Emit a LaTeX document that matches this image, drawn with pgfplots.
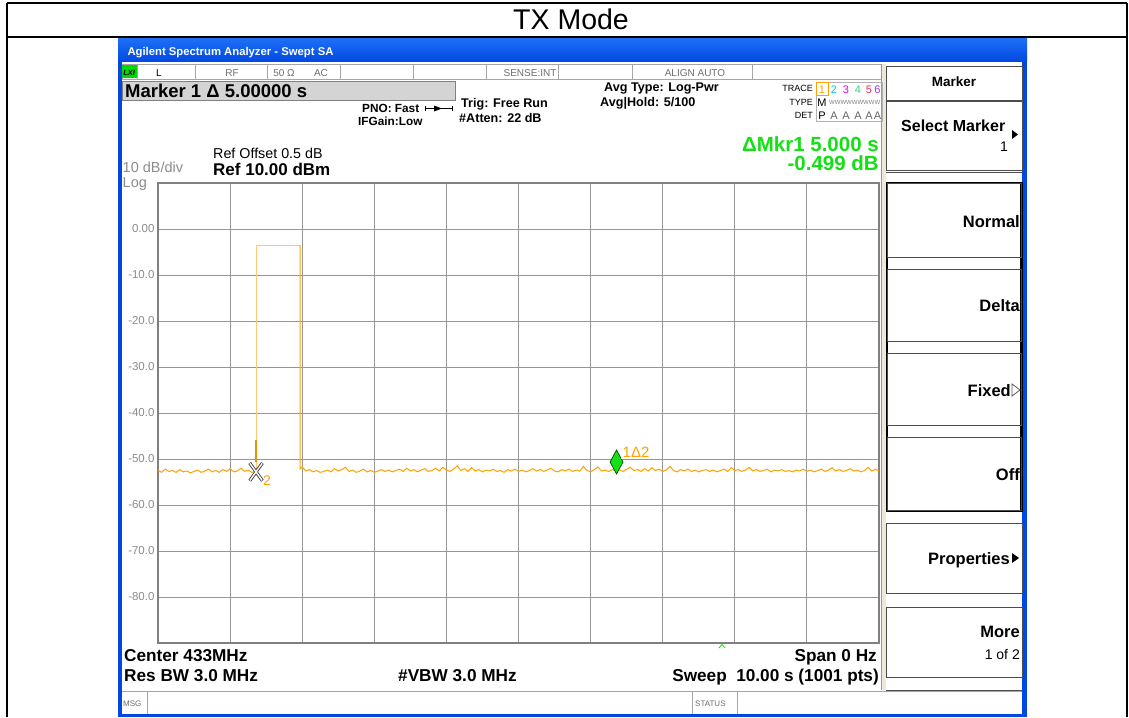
\documentclass[border=0pt]{standalone}
\usepackage{pgfplots}
\pgfplotsset{compat=1.18}
\usepackage{fontspec}
\setmainfont{Liberation Sans}
\newfontfamily\dejavu{DejaVu Sans}
\newcommand\fs[1]{\fontsize{#1}{#1}\selectfont}
\definecolor{framegray}{RGB}{128,128,128}
\definecolor{gridgray}{RGB}{150,150,150}
\definecolor{ticktext}{RGB}{140,140,140}
\definecolor{winblue}{RGB}{0,72,225}
\definecolor{winblueB}{RGB}{30,110,245}
\definecolor{mkbox}{RGB}{212,212,212}
\definecolor{agreen}{RGB}{20,225,20}
\definecolor{trace}{RGB}{255,162,0}
\definecolor{tracelight}{RGB}{255,200,120}
\definecolor{stgray}{RGB}{110,110,110}
\definecolor{xpbeige}{RGB}{236,233,216}
\begin{document}
\begin{tikzpicture}
\begin{scope}[x=1pt,y=-1pt]
\path[use as bounding box] (0,0) rectangle (1129,717);
\fill[white] (0,0) rectangle (1129,717);
% outer table
\draw[line width=2pt] (7,3) -- (1127,3);
\draw[line width=2pt] (7,37) -- (1127,37);
\draw[line width=2pt] (7,3) -- (7,717);
\draw[line width=2pt] (1127,3) -- (1127,717);
\node[anchor=base] at (571,30) {\fs{28.5}TX Mode};
% window
\shade[top color=winblueB, bottom color=winblue] (118,39) rectangle (1027,62);
\fill[winblue] (118,62) rectangle (121.5,717);
\fill[winblue] (1022,62) rectangle (1027,717);
\fill[winblue] (118,714) rectangle (1027,717);
\node[anchor=base west, text=white, font=\bfseries] at (124,56) {\fs{11.3}Agilent Spectrum Analyzer - Swept SA};
% status row
\draw[gray!70] (122,64) rectangle (881,79);
\foreach \xx in {137,195,267,340,413,486,558,632,752} \draw[gray!70] (\xx,64) -- (\xx,79);
\fill[green!85!black] (122,65) rectangle (136.5,78);
\node[anchor=base, font=\bfseries\itshape] at (129.2,75.5) {\fs{7.5}LXI};
\node[anchor=base] at (159,76) {\fs{10}L};
\node[anchor=base, text=stgray] at (232,76) {\fs{10}RF};
\node[anchor=base, text=stgray] at (284,76) {\fs{10}50 Ω};
\node[anchor=base, text=stgray] at (321,76) {\fs{10}AC};
\node[anchor=base, text=stgray] at (530,76) {\fs{10}SENSE:INT};
\node[anchor=base, text=stgray] at (695,76) {\fs{10}ALIGN AUTO};
% separator column
\fill[xpbeige] (881.5,64) rectangle (886,690);
\draw[gray!80] (881.5,64) -- (881.5,690);
% marker box
\draw[fill=mkbox, draw=gray] (122,81) rectangle (455,100);
\node[anchor=base west, font=\bfseries, inner sep=0pt] at (125,97.5) {\fs{18.5}Marker 1 Δ 5.00000 s};
% settings text
\node[anchor=base west, font=\bfseries, inner sep=0pt] at (362,112) {\fs{11.8}PNO: Fast};
\draw[line width=0.8pt] (425,108.5) -- (452,108.5);
\draw (425,106) -- (425,111); \draw (452,106) -- (452,111);
\fill (434,105.5) -- (442,108.5) -- (434,111.5) -- cycle;
\node[anchor=base west, font=\bfseries, inner sep=0pt] at (358,125) {\fs{11.8}IFGain:Low};
\node[anchor=base west, font=\bfseries, inner sep=0pt] at (461,107) {\fs{12.6}Trig: Free Run};
\node[anchor=base west, font=\bfseries, inner sep=0pt] at (459,122) {\fs{12.6}\#Atten: 22 dB};
\node[anchor=base west, font=\bfseries, inner sep=0pt] at (604,92) {\fs{12.6}Avg Type: Log-Pwr};
\node[anchor=base west, font=\bfseries, inner sep=0pt] at (600,106) {\fs{12.6}Avg|Hold: 5/100};
\node[anchor=base east, inner sep=0pt] at (813,91) {\fs{9}TRACE};
\node[anchor=base east, inner sep=0pt] at (813,105) {\fs{9}TYPE};
\node[anchor=base east, inner sep=0pt] at (813,118) {\fs{9}DET};
\draw[gray!60] (816,82) rectangle (882,121);
\draw[trace] (816.5,82.5) rectangle (828,95);
\node[anchor=base, inner sep=0pt, text=trace] at (822,93) {\fs{11}1};
\node[anchor=base, inner sep=0pt, text={rgb,255:red,0;green,200;blue,235}] at (834,93) {\fs{11}2};
\node[anchor=base, inner sep=0pt, text={rgb,255:red,230;green,0;blue,230}] at (846,93) {\fs{11}3};
\node[anchor=base, inner sep=0pt, text={rgb,255:red,60;green,210;blue,120}] at (858,93) {\fs{11}4};
\node[anchor=base, inner sep=0pt, text={rgb,255:red,240;green,40;blue,100}] at (869,93) {\fs{11}5};
\node[anchor=base, inner sep=0pt, text={rgb,255:red,140;green,60;blue,230}] at (877.5,93) {\fs{11}6};
\node[anchor=base, inner sep=0pt] at (822,106) {\fs{11}M};
\node[anchor=base west, inner sep=0pt, text=gray] at (829,104) {\fs{6}WWWWWWWWW};
\node[anchor=base, inner sep=0pt] at (822,119) {\fs{11}P};
\foreach \xx in {834,846,858,869,877.5} \node[anchor=base, inner sep=0pt, text=gray!80!black] at (\xx,119) {\fs{11}A};
\node[anchor=base east, inner sep=0pt, text=agreen, font=\bfseries] at (879,151) {\fs{20.5}ΔMkr1 5.000 s};
\node[anchor=base east, inner sep=0pt, text=agreen, font=\bfseries] at (879,170) {\fs{20.5}-0.499 dB};
\node[anchor=base west, inner sep=0pt] at (213,158) {\fs{14.3}Ref Offset 0.5 dB};
\node[anchor=base west, inner sep=0pt, font=\bfseries] at (213,175.5) {\fs{17}Ref 10.00 dBm};
\node[anchor=base west, inner sep=0pt, text=ticktext] at (122.5,172) {\fs{14.5}10 dB/div};
\node[anchor=base west, inner sep=0pt, text=ticktext] at (122.5,187) {\fs{14.5}Log};
% bottom text
\node[anchor=base west, inner sep=0pt, font=\bfseries] at (124,661) {\fs{17.2}Center 433MHz};
\node[anchor=base east, inner sep=0pt, font=\bfseries] at (877,661) {\fs{17.2}Span 0 Hz};
\node[anchor=base west, inner sep=0pt, font=\bfseries] at (124,681) {\fs{17.2}Res BW 3.0 MHz};
\node[anchor=base west, inner sep=0pt, font=\bfseries] at (398,681) {\fs{17.2}\#VBW 3.0 MHz};
\node[anchor=base east, inner sep=0pt, font=\bfseries] at (879,681) {\fs{17.2}Sweep\ \ 10.00 s (1001 pts)};
\draw[agreen, line width=0.8pt] (719,648) -- (722,644.5) -- (725,648);
% status bar
\draw[gray!70] (121.5,691) -- (1022,691);
\draw[gray!70] (147,691) -- (147,714);
\draw[gray!70] (692,691) -- (692,714);
\draw[gray!70] (737,691) -- (737,714);
\node[anchor=base west, inner sep=0pt, text=stgray] at (123,706) {\fs{8}MSG};
\node[anchor=base west, inner sep=0pt, text=stgray] at (695,706) {\fs{8}STATUS};
% soft keys
\draw[gray!60!black] (886,66) rectangle (1022,100);
\node[anchor=base, inner sep=0pt, font=\bfseries] at (954,86) {\fs{13.5}Marker};
\draw[gray!60!black] (886,101) rectangle (1022,170);
\node[anchor=base west, inner sep=0pt, font=\bfseries] at (901,131) {\fs{16}Select Marker};
\node[anchor=base east, inner sep=0pt] at (1008,151) {\fs{14}1};
\fill (1012,130) -- (1018,134.5) -- (1012,139) -- cycle;
\draw[gray!60!black] (886,172) -- (1022,172);
\draw[line width=2.2pt] (887,183) rectangle (1021.5,511);
\foreach \ya/\yb in {183/257,269/341,353/425,437/510} \draw[gray!60!black] (887,\ya) rectangle (1021,\yb);
\node[anchor=base east, inner sep=0pt, font=\bfseries] at (1020,227) {\fs{16.5}Normal};
\node[anchor=base east, inner sep=0pt, font=\bfseries] at (1020,311) {\fs{16.5}Delta};
\node[anchor=base east, inner sep=0pt, font=\bfseries] at (1011,396) {\fs{16.5}Fixed};
\draw[gray!70!black, line width=0.8pt] (1012,384) -- (1020,390) -- (1012,396) -- cycle;
\node[anchor=base east, inner sep=0pt, font=\bfseries] at (1020,480) {\fs{16.5}Off};
\draw[gray!60!black] (886,523) rectangle (1022,593);
\node[anchor=base east, inner sep=0pt, font=\bfseries] at (1010,564) {\fs{16.5}Properties};
\fill (1012,553) -- (1019,558) -- (1012,563) -- cycle;
\draw[gray!60!black] (886,607) rectangle (1022,677);
\node[anchor=base east, inner sep=0pt, font=\bfseries] at (1020,637) {\fs{16.5}More};
\node[anchor=base east, inner sep=0pt] at (1020,659) {\fs{14}1 of 2};
\draw[gray!60!black] (886,690) -- (1022,690);
\end{scope}
\begin{axis}[
  at={(158pt,-643pt)}, anchor=south west,
  width=721pt, height=460pt, scale only axis,
  xmin=0, xmax=10, ymin=-90, ymax=10,
  xtick={0,1,...,10}, xticklabels={{},{},{},{},{},{},{},{},{},{},{}},
  ytick={-90,-80,...,10},
  yticklabels={{},-80.0,-70.0,-60.0,-50.0,-40.0,-30.0,-20.0,-10.0,0.00,{}},
  yticklabel style={font=\fs{11.5}, text=ticktext},
  grid=major, major grid style={color=gridgray, line width=0.9pt},
  major tick length=0pt,
  axis line style={color=framegray, line width=2.6pt},
]
\addplot[trace, line width=1pt] coordinates {
(0.00,-52.4)(0.05,-52.9)(0.10,-52.2)(0.15,-52.7)(0.20,-52.5)(0.25,-52.9)(0.30,-52.3)(0.35,-52.8)
(0.40,-52.6)(0.45,-53.0)(0.50,-52.7)(0.55,-52.4)(0.60,-52.9)(0.65,-52.6)(0.70,-52.2)(0.75,-52.8)
(0.80,-52.5)(0.85,-52.9)(0.90,-52.3)(0.95,-52.7)(1.00,-52.1)(1.05,-52.8)(1.10,-52.6)(1.15,-52.0)
(1.20,-52.7)(1.25,-52.4)(1.30,-52.9)(1.35,-52.7)(1.37,-52.8)};
\addplot[tracelight, line width=1.1pt] coordinates {(1.37,-52.8)(1.37,-3.5)(1.97,-3.5)};
\addplot[trace, line width=1pt] coordinates {
(1.97,-3.5)(1.97,-52.2)(2.00,-51.7)(2.05,-52.6)(2.10,-52.3)(2.15,-52.8)(2.20,-52.5)(2.25,-52.9)(2.30,-52.7)
(2.35,-52.4)(2.40,-52.8)(2.45,-52.1)(2.50,-52.6)(2.55,-52.3)(2.60,-51.8)(2.65,-52.7)(2.70,-52.4)
(2.75,-52.9)(2.80,-52.6)(2.85,-52.2)(2.90,-52.8)(2.95,-52.5)(3.00,-52.9)(3.05,-52.6)(3.10,-52.3)
(3.15,-52.7)(3.20,-52.4)(3.25,-52.8)(3.30,-52.5)(3.35,-52.2)(3.40,-52.7)(3.45,-52.0)(3.50,-52.6)
(3.55,-52.3)(3.60,-52.8)(3.65,-52.4)(3.70,-52.1)(3.75,-52.7)(3.80,-52.5)(3.85,-52.0)(3.90,-52.6)
(3.95,-51.8)(4.00,-52.4)(4.05,-52.7)(4.10,-52.2)(4.15,-51.5)(4.20,-52.5)(4.25,-52.1)(4.30,-52.7)
(4.35,-51.9)(4.40,-52.6)(4.45,-52.3)(4.50,-52.8)(4.55,-52.4)(4.60,-52.6)(4.65,-52.2)(4.70,-52.7)
(4.75,-52.5)(4.80,-52.9)(4.85,-52.3)(4.90,-52.6)(4.95,-52.2)(5.00,-52.7)(5.05,-52.4)(5.10,-52.8)
(5.15,-52.5)(5.20,-52.1)(5.25,-52.6)(5.30,-52.3)(5.35,-52.7)(5.40,-52.4)(5.45,-52.0)(5.50,-52.6)
(5.55,-52.8)(5.60,-52.3)(5.65,-52.6)(5.70,-52.2)(5.75,-52.7)(5.80,-52.4)(5.85,-52.6)(5.90,-51.6)
(5.95,-52.5)(6.00,-52.8)(6.05,-52.3)(6.10,-51.7)(6.15,-52.6)(6.20,-52.4)(6.25,-52.7)(6.30,-52.3)
(6.35,-52.6)(6.40,-52.4)(6.45,-52.7)(6.50,-52.2)(6.55,-51.8)(6.60,-52.5)(6.65,-52.3)(6.70,-52.7)
(6.75,-52.1)(6.80,-52.6)(6.85,-51.9)(6.90,-52.5)(6.95,-52.2)(7.00,-52.7)(7.05,-52.4)(7.10,-51.6)
(7.15,-52.5)(7.20,-52.8)(7.25,-52.3)(7.30,-52.6)(7.35,-52.2)(7.40,-52.7)(7.45,-52.4)(7.50,-52.8)
(7.55,-52.5)(7.60,-52.3)(7.65,-52.7)(7.70,-52.4)(7.75,-52.8)(7.80,-52.5)(7.85,-52.2)(7.90,-52.7)
(7.95,-51.9)(8.00,-52.5)(8.05,-52.3)(8.10,-52.7)(8.15,-52.4)(8.20,-51.8)(8.25,-52.6)(8.30,-52.3)
(8.35,-52.7)(8.40,-52.5)(8.45,-52.2)(8.50,-52.8)(8.55,-52.4)(8.60,-52.6)(8.65,-52.3)(8.70,-52.7)
(8.75,-52.5)(8.80,-52.8)(8.85,-52.4)(8.90,-52.6)(8.95,-52.2)(9.00,-52.7)(9.05,-52.4)(9.10,-52.8)
(9.15,-52.5)(9.20,-52.2)(9.25,-52.7)(9.30,-52.4)(9.35,-51.9)(9.40,-52.6)(9.45,-52.3)(9.50,-52.7)
(9.55,-52.5)(9.60,-52.1)(9.65,-52.6)(9.70,-52.4)(9.75,-52.8)(9.80,-52.5)(9.85,-51.8)(9.90,-52.6)
(9.95,-52.3)(10.00,-52.5)};
% marker 2 stem
\addplot[color=trace!90!black, line width=2pt] coordinates {(1.36,-45.9)(1.36,-50.6)};
% marker 2 X (outlined)
\addplot[only marks, mark=x, mark size=12.5pt, mark options={xscale=0.72, line width=3.2pt, draw=black!75}] coordinates {(1.36,-52.8)};
\addplot[only marks, mark=x, mark size=12pt, mark options={xscale=0.72, line width=1.4pt, draw=white}] coordinates {(1.36,-52.8)};
% marker 1 diamond
\addplot[only marks, mark=diamond*, mark size=12pt, mark options={xscale=0.72, fill=agreen, draw=black!70!green, line width=0.7pt}] coordinates {(6.36,-50.65)};
\end{axis}
\begin{scope}[x=1pt,y=-1pt]
\node[anchor=base west, inner sep=0pt, text=trace] at (263,485) {\fs{14}2};
\node[anchor=base west, inner sep=1.5pt, fill=white, text=trace] at (621,457) {\fs{15}1Δ2};
\end{scope}
\end{tikzpicture}
\end{document}
